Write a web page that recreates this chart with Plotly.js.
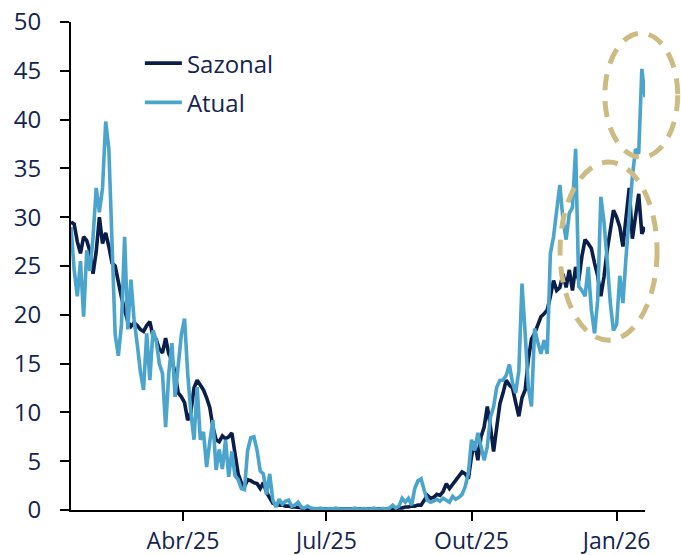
<!DOCTYPE html>
<html>
<head>
<meta charset="utf-8">
<script src="https://cdn.plot.ly/plotly-3.0.1.min.js"></script>
<style>
  html, body { margin: 0; padding: 0; background: #ffffff; }
  #chart { width: 681px; height: 555px; }
</style>
</head>
<body>
<div id="chart"></div>
<script>
// ---- data (every 2 days from 2025-01-20) ----
const startDate = '2025-01-20';
const stepDays = 2;

const seriesNames = ['Sazonal', 'Atual'];

const sazonal = [
  29.5, 29.3, 27.5, 26.3, 28.0, 27.6, 26.5, 24.2, 26.5, 30.0,
  27.3, 28.4, 27.0, 25.3, 25.0, 23.3, 21.8, 20.5, 19.3, 18.8,
  19.2, 18.9, 18.5, 18.3, 18.9, 19.3, 17.8, 17.5, 16.5, 16.1,
  17.6, 16.0, 15.4, 14.0, 12.0, 11.6, 11.0, 9.2, 10.0, 12.5,
  13.3, 12.8, 12.3, 11.5, 10.5, 8.5, 7.2, 7.0, 7.6, 7.3,
  7.5, 7.9, 5.5, 3.7, 2.8, 2.4, 3.1, 3.0, 2.8, 2.7,
  2.2, 2.8, 1.8, 1.2, 0.7, 0.6, 0.5, 0.5, 0.4, 0.4,
  0.3, 0.3, 0.25, 0.2, 0.2, 0.15, 0.15, 0.1, 0.1, 0.1,
  0.1, 0.1, 0.1, 0.1, 0.1, 0.1, 0.1, 0.1, 0.1, 0.1,
  0.1, 0.1, 0.1, 0.1, 0.1, 0.1, 0.1, 0.1, 0.1, 0.1,
  0.1, 0.1, 0.1, 0.15, 0.2, 0.2, 0.3, 0.3, 0.4, 0.4,
  0.5, 0.5, 1.0, 1.5, 1.2, 1.3, 1.6, 1.5, 1.9, 2.7,
  2.2, 2.6, 3.0, 3.4, 3.9, 3.7, 3.2, 5.5, 7.0, 5.1,
  7.5, 8.5, 10.6, 8.5, 6.0, 8.5, 10.9, 12.0, 13.3, 12.8,
  12.5, 11.0, 9.6, 11.5, 12.3, 15.4, 17.5, 18.1, 19.1, 19.8,
  20.1, 20.5, 21.9, 23.5, 22.5, 22.8, 24.2, 22.8, 24.6, 22.5,
  24.9, 23.5, 26.0, 27.7, 27.3, 26.8, 25.3, 24.0, 21.9, 23.9,
  26.6, 28.7, 30.7, 30.0, 29.0, 27.0, 30.0, 33.0, 27.8, 30.4,
  32.4, 28.3, 29.0
];

const atual = [
  29.0, 24.6, 21.9, 25.5, 19.8, 26.6, 24.5, 28.0, 33.0, 30.5,
  33.0, 39.8, 37.0, 28.0, 18.0, 15.8, 19.0, 28.0, 18.5, 23.6,
  19.5, 17.0, 14.2, 12.3, 18.1, 13.3, 18.4, 17.4, 15.0, 14.0,
  8.5, 14.0, 17.1, 11.6, 15.0, 18.0, 19.6, 14.0, 10.0, 7.2,
  12.6, 7.2, 8.0, 4.4, 7.0, 9.2, 4.1, 6.2, 4.2, 7.2,
  3.4, 6.0, 3.5, 3.1, 2.2, 2.1, 6.1, 7.4, 7.5, 6.1,
  4.0, 3.7, 1.6, 3.7, 1.0, 0.3, 1.1, 0.6, 0.9, 1.0,
  0.4, 0.5, 0.8, 0.3, 0.2, 0.4, 0.2, 0.15, 0.1, 0.2,
  0.1, 0.1, 0.15, 0.1, 0.2, 0.1, 0.1, 0.15, 0.1, 0.1,
  0.2, 0.1, 0.1, 0.15, 0.1, 0.1, 0.2, 0.1, 0.1, 0.15,
  0.1, 0.2, 0.5, 0.2, 0.4, 1.2, 0.8, 1.2, 0.5, 2.2,
  3.0, 3.2, 2.0, 1.0, 0.8, 0.9, 1.1, 0.9, 1.2, 1.0,
  0.8, 1.4, 1.1, 1.3, 1.6, 2.4, 3.8, 7.2, 6.1, 7.9,
  6.5, 5.1, 6.5, 9.5, 10.6, 12.6, 13.3, 13.3, 13.8, 14.9,
  13.0, 12.0, 14.3, 23.2, 18.1, 12.6, 10.6, 18.6, 17.2, 16.0,
  17.4, 16.0, 26.3, 28.0, 30.7, 33.3, 29.7, 27.7, 30.4, 31.0,
  37.0, 22.9, 22.5, 21.9, 24.9, 20.5, 18.1, 21.5, 32.1, 29.5,
  25.6, 21.2, 18.4, 19.0, 24.0, 21.2, 26.0, 30.7, 34.2, 37.0,
  36.5, 45.2, 42.3
];

const xTickVals = ['2025-04-01', '2025-07-01', '2025-10-01', '2026-01-01'];
const xTickText = ['Abr/25', 'Jul/25', 'Out/25', 'Jan/26'];
const xRange = ['2025-01-20', '2026-01-19'];
const yTickVals = [0, 5, 10, 15, 20, 25, 30, 35, 40, 45, 50];

// ---- build dates ----
function buildDates(n) {
  const base = new Date(startDate + 'T00:00:00Z');
  const out = [];
  for (let i = 0; i < n; i++) {
    const d = new Date(base.getTime() + i * stepDays * 86400000);
    out.push(d.toISOString().slice(0, 10));
  }
  return out;
}
const dates = buildDates(sazonal.length);

const navy = '#0b1e4a';
const light = '#4aa4cc';
const tan = '#cdbb84';
const textColor = '#14244e';
const fontFam = '"Open Sans", "Noto Sans", sans-serif';

const traces = [
  { x: dates, y: sazonal, name: seriesNames[0], type: 'scatter', mode: 'lines',
    line: { color: navy, width: 3.6 }, legendgroup: 'a' },
  { x: dates, y: atual, name: seriesNames[1], type: 'scatter', mode: 'lines',
    line: { color: light, width: 3.6 }, legendgroup: 'b' }
];

const layout = {
  width: 681, height: 555,
  margin: { l: 71, r: 36, t: 22, b: 45 },
  paper_bgcolor: '#ffffff', plot_bgcolor: '#ffffff',
  font: { family: fontFam, size: 24, color: textColor },
  showlegend: true,
  legend: {
    x: 0.12, y: 0.961, xanchor: 'left', yanchor: 'top',
    bgcolor: 'rgba(0,0,0,0)', tracegroupgap: 5, traceorder: 'grouped',
    itemwidth: 37,
    font: { family: fontFam, size: 24, color: textColor }
  },
  xaxis: {
    type: 'date', range: xRange,
    tickvals: xTickVals, ticktext: xTickText,
    ticks: 'outside', ticklen: 9, tickwidth: 2, tickcolor: '#000',
    showline: true, linecolor: '#000', linewidth: 2,
    showgrid: false, zeroline: false,
    tickfont: { family: fontFam, size: 23, color: textColor },
    ticklabelstandoff: 0
  },
  yaxis: {
    range: [0, 50], tickvals: yTickVals,
    ticks: 'outside', ticklen: 9, tickwidth: 2, tickcolor: '#000',
    showline: true, linecolor: '#000', linewidth: 2,
    showgrid: false, zeroline: false,
    tickfont: { family: fontFam, size: 24, color: textColor },
    ticklabelstandoff: 14
  },
  shapes: [
    { type: 'circle', xref: 'paper', yref: 'paper',
      x0: 0.930, x1: 1.057, y0: 0.723, y1: 0.977,
      line: { color: tan, width: 5, dash: '16px,11px' } },
    { type: 'circle', xref: 'paper', yref: 'paper',
      x0: 0.852, x1: 1.021, y0: 0.348, y1: 0.713,
      line: { color: tan, width: 5, dash: '16px,11px' } }
  ]
};

Plotly.newPlot('chart', traces, layout, { displayModeBar: false, staticPlot: true });
</script>
</body>
</html>
